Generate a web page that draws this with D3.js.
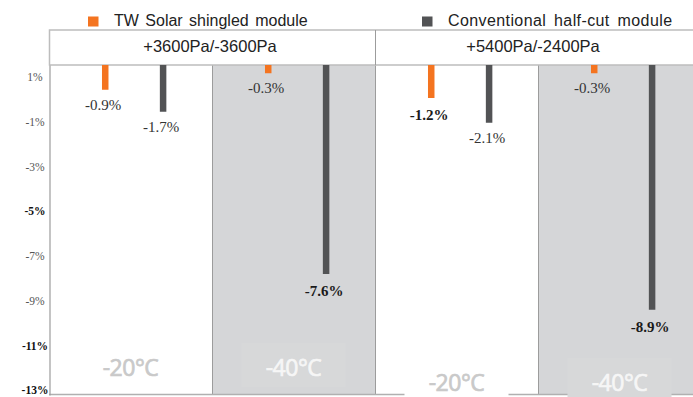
<!DOCTYPE html>
<html>
<head>
<meta charset="utf-8">
<script src="https://cdn.jsdelivr.net/npm/d3@7"></script>
<style>
  html, body { margin: 0; padding: 0; background: #fff; }
  svg { display: block; }
</style>
</head>
<body>
<svg id="chart" width="693" height="397"></svg>
<script>
// Load panels, temperatures and series
const panels = ["+3600Pa/-3600Pa", "+5400Pa/-2400Pa"];
const temps = ["-20°C", "-40°C"];
const seriesNames = ["TW Solar shingled module", "Conventional half-cut module"];
const seriesKeys = ["shingled", "halfcut"];

// Power change per panel/temperature, in the order of panels × temps
const shingled = [-0.9, -0.3, -1.2, -0.3];
const halfcut = [-1.7, -7.6, -2.1, -8.9];

// Axis tick labels (percent)
const yTicks = [1, -1, -3, -5, -7, -9, -11, -13];
const boldTicks = [-5, -11, -13];

const colors = { shingled: "#f47420", halfcut: "#525355" };

const svg = d3.select("#chart");
const W = 693, H = 397;
const plotLeft = 49, plotRight = 701, plotTop = 65, plotBottom = 395;
const headTop = 30;

// Rows of data
const rows = [];
panels.forEach((p, i) => {
  temps.forEach((t, j) => {
    const k = i * temps.length + j;
    rows.push({ panel: p, temp: t, shingled: shingled[k], halfcut: halfcut[k] });
  });
});

// Values emphasised in bold
const boldKeys = new Set([
  "+3600Pa/-3600Pa|-40°C|halfcut",
  "+5400Pa/-2400Pa|-20°C|shingled",
  "+5400Pa/-2400Pa|-40°C|halfcut"
]);

// Scales
const xPanel = d3.scaleBand().domain(panels).range([plotLeft, plotRight]);
const xTemp = d3.scaleBand().domain(temps).range([0, xPanel.bandwidth()]);
const bw = xTemp.bandwidth();
const xSeries = d3.scalePoint().domain(seriesKeys).range([bw * 0.345, bw * 0.70]);
const y = d3.scaleLinear().domain([0, -12]).range([plotTop, plotBottom]);
const yAxisScale = d3.scaleLinear().domain([1.537, -13.22]).range([plotTop, plotBottom]);

const barW = 6.5;
const pct = v => v.toFixed(1) + "%";

// Shaded background for the -40°C columns
rows.filter(r => r.temp === "-40°C").forEach(r => {
  svg.append("rect")
    .attr("x", xPanel(r.panel) + xTemp(r.temp))
    .attr("y", plotTop)
    .attr("width", bw)
    .attr("height", plotBottom - plotTop)
    .attr("fill", "#d5d6d8");
});

// Column dividers
const dividers = [];
panels.forEach(p => temps.forEach(t => dividers.push(xPanel(p) + xTemp(t))));
dividers.filter(x => x > plotLeft + 1).forEach(x => {
  svg.append("line")
    .attr("x1", Math.round(x) + 0.5).attr("x2", Math.round(x) + 0.5)
    .attr("y1", plotTop).attr("y2", plotBottom)
    .attr("stroke", "#9c9c9c").attr("stroke-width", 1);
});

// Header cells
svg.append("rect")
  .attr("x", plotLeft + 0.5).attr("y", headTop)
  .attr("width", W - plotLeft + 10).attr("height", plotTop - headTop)
  .attr("fill", "#fff")
  .attr("stroke", "#bdbdbd").attr("stroke-width", 1.5);
svg.append("line")
  .attr("x1", xPanel(panels[1]) + 0.5).attr("x2", xPanel(panels[1]) + 0.5)
  .attr("y1", headTop).attr("y2", plotTop)
  .attr("stroke", "#9c9c9c").attr("stroke-width", 1);
svg.selectAll("text.head").data(panels).join("text")
  .attr("class", "head")
  .attr("x", (d, i) => xPanel(d) + xPanel.bandwidth() / 2 - (i === 0 ? 2 : 5))
  .attr("y", 52)
  .attr("text-anchor", "middle")
  .attr("font-family", "Liberation Sans, Arial, sans-serif")
  .attr("font-size", 16.5)
  .attr("fill", "#222")
  .text(d => d);

// Bottom frame line
svg.append("line")
  .attr("x1", plotLeft).attr("x2", W)
  .attr("y1", plotBottom - 0.5).attr("y2", plotBottom - 0.5)
  .attr("stroke", "#b0b0b0").attr("stroke-width", 1.5);

// Temperature captions with their backing boxes
rows.forEach(r => {
  const cx = xPanel(r.panel) + xTemp(r.temp) + bw / 2;
  const cy = r.panel === panels[0] ? 365 : 380;
  const cold = r.temp === "-40°C";
  const ink = cold ? "#f6f6f6" : "#c9c9c9";
  svg.append("rect")
    .attr("x", cx - 52).attr("y", cy - 22)
    .attr("width", 104).attr("height", 44)
    .attr("fill", cold ? "#d7d8d9" : "#fff");
  svg.append("text")
    .attr("x", cx).attr("y", cy + 11)
    .attr("text-anchor", "middle")
    .attr("font-family", "Open Sans, sans-serif")
    .attr("font-size", 23)
    .attr("letter-spacing", -0.5)
    .attr("fill", ink)
    .attr("stroke", ink)
    .attr("stroke-width", 0.7)
    .text(r.temp);
});

// Bars
rows.forEach(r => {
  seriesKeys.forEach(k => {
    const v = r[k];
    const cx = xPanel(r.panel) + xTemp(r.temp) + xSeries(k);
    svg.append("rect")
      .attr("x", cx - barW / 2)
      .attr("y", y(0))
      .attr("width", barW)
      .attr("height", y(v) - y(0))
      .attr("fill", colors[k]);
    const bold = boldKeys.has(r.panel + "|" + r.temp + "|" + k);
    svg.append("text")
      .attr("x", cx - 2)
      .attr("y", y(v) + (bold ? 22 : 20))
      .attr("text-anchor", "middle")
      .attr("font-family", "Liberation Serif, Times New Roman, serif")
      .attr("font-size", 15)
      .attr("font-weight", bold ? "bold" : "normal")
      .attr("fill", bold ? "#1a1a1a" : "#333")
      .text(pct(v));
  });
});

// Left axis
const axis = svg.append("g")
  .attr("transform", `translate(${plotLeft + 0.5},0)`)
  .call(d3.axisLeft(yAxisScale).tickValues(yTicks).tickSize(0).tickFormat(d => d + "%"));
axis.select(".domain").attr("stroke", "#9c9c9c").attr("stroke-width", 1.2);
axis.selectAll(".tick text")
  .attr("x", -14.5)
  .attr("text-anchor", "middle")
  .attr("font-family", "Liberation Serif, Times New Roman, serif")
  .attr("font-size", 11.5)
  .attr("font-weight", d => boldTicks.includes(d) ? "bold" : "normal")
  .attr("fill", d => boldTicks.includes(d) ? "#111" : "#555");

// Legend
const legendX = [88, 422];
seriesKeys.forEach((k, i) => {
  svg.append("rect")
    .attr("x", legendX[i]).attr("y", 16.5)
    .attr("width", 10.5).attr("height", 10)
    .attr("fill", colors[k]);
  svg.append("text")
    .attr("x", legendX[i] + 26).attr("y", 26)
    .attr("font-family", "Liberation Sans, Arial, sans-serif")
    .attr("font-size", 16)
    .attr("word-spacing", i === 0 ? 2 : 3)
    .attr("letter-spacing", i === 0 ? 0 : 0.4)
    .attr("fill", "#222")
    .text(seriesNames[i]);
});
</script>
</body>
</html>
